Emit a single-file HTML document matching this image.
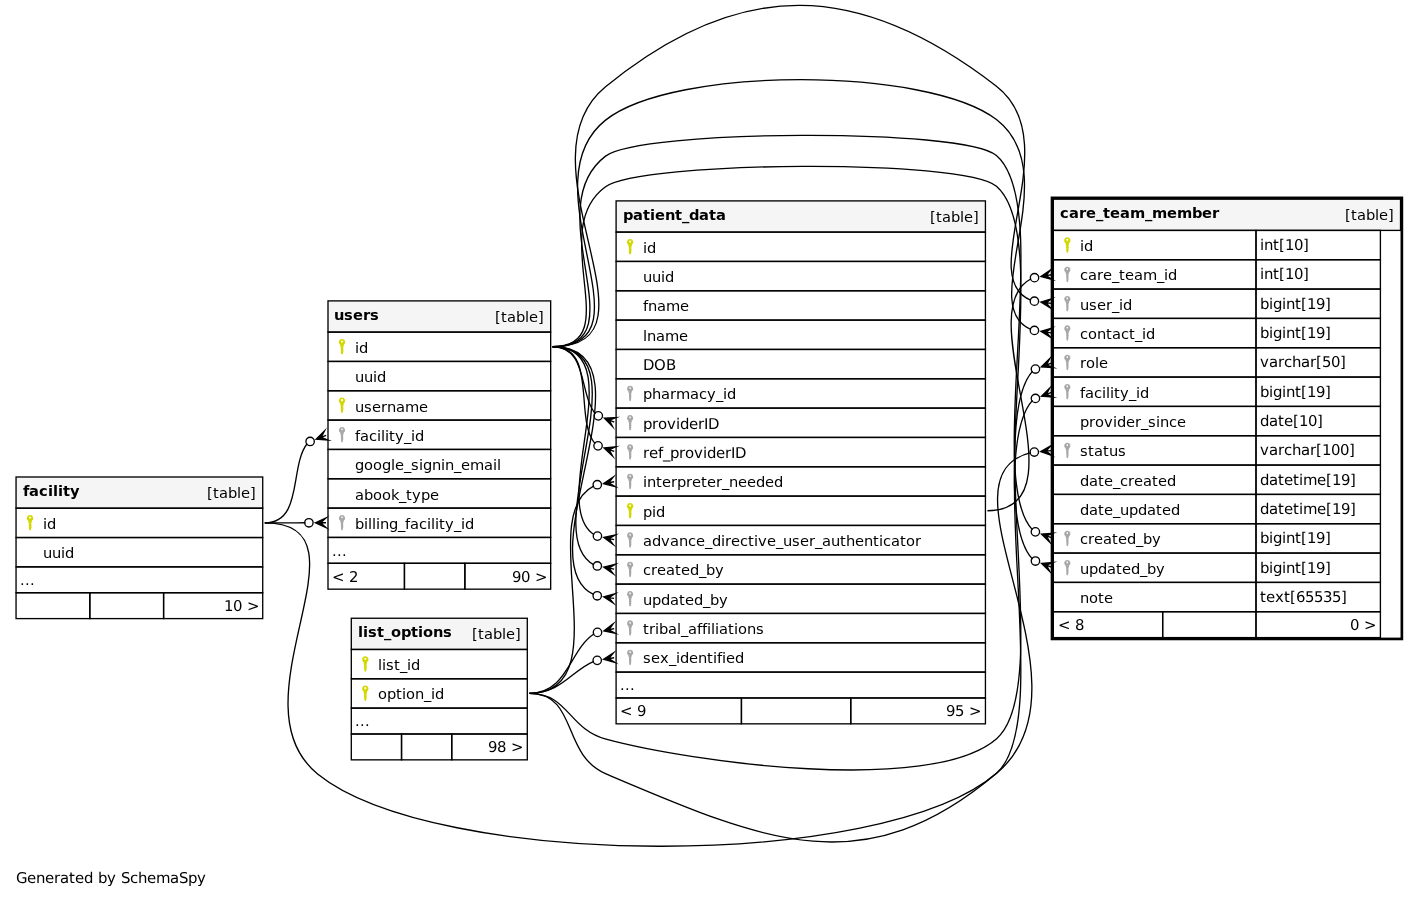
<!DOCTYPE html>
<html lang="en">
<head>
<meta charset="utf-8">
<title>care_team_member relationships</title>
<style>
html,body{margin:0;padding:0;background:#fff}
body{width:1419px;height:898px;overflow:hidden}
svg{display:block;will-change:transform}
svg text.g{text-rendering:geometricPrecision;font-size:14.9px}
svg text{font-family:"DejaVu Sans","Liberation Sans",sans-serif;font-size:14.67px;fill:#000}
.t rect{stroke-width:1.3333}
.e path,.e circle{fill:none;stroke:#000;stroke-width:1.3333}
.e polygon{fill:#000;stroke:#000;stroke-width:1.3333;stroke-miterlimit:10}
</style>
</head>
<body>
<svg width="1419" height="898" viewBox="0 0 1419 898" role="img" aria-label="care_team_member one degree relationships diagram">
<defs>
<path id="pk" fill="#d2d800" fill-rule="evenodd" d="M0,-8.1a3.2,3.2 0 0 1 1.9,5.78L1.3,0.2L1.2,2h0.5v0.8h-0.55L1.1,4h0.5v0.8h-0.55L1,6.4Q0,8.3 -1,6.4L-1.15,3.5L-1.3,0.2L-1.9,-2.32A3.2,3.2 0 0 1 0,-8.1ZM0,-6.6a1.05,1.05 0 1 0 0.001,0Z"/>
<path id="fk" fill="#a8a8a8" fill-rule="evenodd" d="M0,-8a3.1,3.1 0 0 1 1.85,5.6L1.15,0.2L1.05,2h0.45v0.8h-0.5L0.95,4h0.45v0.8h-0.5L0.9,6.5Q0,8.2 -0.9,6.5L-1.05,3.5L-1.15,0.2L-1.85,-2.4A3.1,3.1 0 0 1 0,-8ZM0,-6.4a0.8,0.8 0 1 0 0.001,0Z"/>
</defs>
<rect x="0" y="0" width="1419" height="898" fill="#fff"/>
<text x="16 27 36 45 54 60 69 75 84 93 98 107 116 121 130 138 147 156 170 179 188 197" y="883" class="g">Generated by SchemaSpy</text>
<g class="t">
<g id="care_team_member">
<rect x="1052" y="197.87" width="349.87" height="441.07" fill="#fff" stroke="#000" style="stroke-width:2.67"/>
<rect x="1053.33" y="199.2" width="347.2" height="31.2" fill="#f5f5f5" stroke="#000"/>
<text x="1060 1069 1079 1086 1096 1103 1110 1120 1130 1145 1152 1167 1177 1192 1202 1212" y="218" font-weight="bold">care_team_member</text>
<text x="1345 1351 1357 1366 1375 1379 1388" y="220">[table]</text>
<rect x="1053.33" y="230.4" width="202.67" height="29.33" fill="none" stroke="#000"/>
<use href="#pk" x="1067.33" y="245.3"/>
<text x="1080 1084" y="251">id</text>
<rect x="1256" y="230.4" width="124.4" height="29.33" fill="none" stroke="#000"/>
<text x="1260 1264 1273 1279 1285 1294 1303" y="250" class="g">int[10]</text>
<rect x="1053.33" y="259.73" width="202.67" height="29.33" fill="none" stroke="#000"/>
<use href="#fk" x="1067.33" y="274.63"/>
<text x="1080 1088 1097 1103 1112 1119 1125 1134 1143 1157 1164 1168" y="280">care_team_id</text>
<rect x="1256" y="259.73" width="124.4" height="29.33" fill="none" stroke="#000"/>
<text x="1260 1264 1273 1279 1285 1294 1303" y="279" class="g">int[10]</text>
<rect x="1053.33" y="289.07" width="202.67" height="29.33" fill="none" stroke="#000"/>
<use href="#fk" x="1067.33" y="303.97"/>
<text x="1080 1089 1097 1106 1112 1119 1123" y="310">user_id</text>
<rect x="1256" y="289.07" width="124.4" height="29.33" fill="none" stroke="#000"/>
<text x="1260 1269 1273 1282 1286 1295 1301 1307 1316 1325" y="309" class="g">bigint[19]</text>
<rect x="1053.33" y="318.4" width="202.67" height="29.33" fill="none" stroke="#000"/>
<use href="#fk" x="1067.33" y="333.3"/>
<text x="1080 1088 1097 1106 1112 1121 1129 1135 1142 1146" y="339">contact_id</text>
<rect x="1256" y="318.4" width="124.4" height="29.33" fill="none" stroke="#000"/>
<text x="1260 1269 1273 1282 1286 1295 1301 1307 1316 1325" y="338" class="g">bigint[19]</text>
<rect x="1053.33" y="347.73" width="202.67" height="29.33" fill="none" stroke="#000"/>
<use href="#fk" x="1067.33" y="362.63"/>
<text x="1080 1086 1095 1099" y="368">role</text>
<rect x="1256" y="347.73" width="124.4" height="29.33" fill="none" stroke="#000"/>
<text x="1260 1269 1278 1284 1292 1301 1310 1316 1322 1331 1340" y="367" class="g">varchar[50]</text>
<rect x="1053.33" y="377.07" width="202.67" height="29.33" fill="none" stroke="#000"/>
<use href="#fk" x="1067.33" y="391.97"/>
<text x="1080 1085 1094 1102 1106 1110 1114 1120 1129 1136 1140" y="398">facility_id</text>
<rect x="1256" y="377.07" width="124.4" height="29.33" fill="none" stroke="#000"/>
<text x="1260 1269 1273 1282 1286 1295 1301 1307 1316 1325" y="397" class="g">bigint[19]</text>
<rect x="1053.33" y="406.4" width="202.67" height="29.33" fill="none" stroke="#000"/>
<text x="1080 1089 1095 1104 1113 1117 1126 1135 1141 1148 1156 1160 1169 1177" y="427">provider_since</text>
<rect x="1256" y="406.4" width="124.4" height="29.33" fill="none" stroke="#000"/>
<text x="1260 1269 1278 1284 1293 1299 1308 1317" y="426" class="g">date[10]</text>
<rect x="1053.33" y="435.73" width="202.67" height="29.33" fill="none" stroke="#000"/>
<use href="#fk" x="1067.33" y="450.63"/>
<text x="1080 1088 1094 1103 1109 1118" y="456">status</text>
<rect x="1256" y="435.73" width="124.4" height="29.33" fill="none" stroke="#000"/>
<text x="1260 1269 1278 1284 1292 1301 1310 1316 1322 1331 1340 1349" y="455" class="g">varchar[100]</text>
<rect x="1053.33" y="465.07" width="202.67" height="29.33" fill="none" stroke="#000"/>
<text x="1080 1089 1098 1104 1113 1120 1128 1134 1143 1152 1158 1167" y="486">date_created</text>
<rect x="1256" y="465.07" width="124.4" height="29.33" fill="none" stroke="#000"/>
<text x="1260 1269 1278 1284 1293 1299 1303 1317 1326 1332 1341 1350" y="485" class="g">datetime[19]</text>
<rect x="1053.33" y="494.4" width="202.67" height="29.33" fill="none" stroke="#000"/>
<text x="1080 1089 1098 1104 1113 1120 1129 1138 1147 1156 1162 1171" y="515">date_updated</text>
<rect x="1256" y="494.4" width="124.4" height="29.33" fill="none" stroke="#000"/>
<text x="1260 1269 1278 1284 1293 1299 1303 1317 1326 1332 1341 1350" y="514" class="g">datetime[19]</text>
<rect x="1053.33" y="523.73" width="202.67" height="29.33" fill="none" stroke="#000"/>
<use href="#fk" x="1067.33" y="538.63"/>
<text x="1080 1088 1094 1103 1112 1118 1127 1136 1143 1152" y="544">created_by</text>
<rect x="1256" y="523.73" width="124.4" height="29.33" fill="none" stroke="#000"/>
<text x="1260 1269 1273 1282 1286 1295 1301 1307 1316 1325" y="543" class="g">bigint[19]</text>
<rect x="1053.33" y="553.07" width="202.67" height="29.33" fill="none" stroke="#000"/>
<use href="#fk" x="1067.33" y="567.97"/>
<text x="1080 1089 1098 1107 1116 1122 1131 1140 1147 1156" y="574">updated_by</text>
<rect x="1256" y="553.07" width="124.4" height="29.33" fill="none" stroke="#000"/>
<text x="1260 1269 1273 1282 1286 1295 1301 1307 1316 1325" y="573" class="g">bigint[19]</text>
<rect x="1053.33" y="582.4" width="202.67" height="29.33" fill="none" stroke="#000"/>
<text x="1080 1089 1098 1104" y="603">note</text>
<rect x="1256" y="582.4" width="124.4" height="29.33" fill="none" stroke="#000"/>
<text x="1260 1266 1275 1284 1290 1296 1305 1314 1323 1332 1341" y="602" class="g">text[65535]</text>
<rect x="1053.33" y="611.73" width="109.33" height="25.87" fill="none" stroke="#000"/>
<rect x="1162.66" y="611.73" width="93.33" height="25.87" fill="none" stroke="#000"/>
<rect x="1256" y="611.73" width="124.4" height="25.87" fill="none" stroke="#000"/>
<text x="1058 1070 1075" y="630" class="g">&lt; 8</text>
<text x="1350 1359 1364" y="630" class="g">0 &gt;</text>
</g>
<g id="patient_data">
<rect x="616.1" y="200.9" width="369.33" height="522.93" fill="#fff"/>
<rect x="616.1" y="200.9" width="369.33" height="31.2" fill="#f5f5f5" stroke="#000"/>
<text x="623 633 643 650 655 665 675 682 689 699 709 716" y="220" font-weight="bold">patient_data</text>
<text x="930 936 942 951 960 964 973" y="222">[table]</text>
<rect x="616.1" y="232.1" width="369.33" height="29.33" fill="none" stroke="#000"/>
<use href="#pk" x="630.1" y="247"/>
<text x="643 647" y="253">id</text>
<rect x="616.1" y="261.43" width="369.33" height="29.33" fill="none" stroke="#000"/>
<text x="643 652 661 665" y="282">uuid</text>
<rect x="616.1" y="290.77" width="369.33" height="29.33" fill="none" stroke="#000"/>
<text x="643 648 657 666 680" y="311">fname</text>
<rect x="616.1" y="320.1" width="369.33" height="29.33" fill="none" stroke="#000"/>
<text x="643 647 656 665 679" y="341">lname</text>
<rect x="616.1" y="349.43" width="369.33" height="29.33" fill="none" stroke="#000"/>
<text x="643 654 666" y="370" class="g">DOB</text>
<rect x="616.1" y="378.77" width="369.33" height="29.33" fill="none" stroke="#000"/>
<use href="#fk" x="630.1" y="393.67"/>
<text x="643 652 661 670 676 690 699 707 716 723 727" y="399">pharmacy_id</text>
<rect x="616.1" y="408.1" width="369.33" height="29.33" fill="none" stroke="#000"/>
<use href="#fk" x="630.1" y="423"/>
<text x="643 652 658 667 676 680 689 698 704 708" y="429" class="g">providerID</text>
<rect x="616.1" y="437.43" width="369.33" height="29.33" fill="none" stroke="#000"/>
<use href="#fk" x="630.1" y="452.33"/>
<text x="643 649 658 663 670 679 685 694 703 707 716 725 731 735" y="458" class="g">ref_providerID</text>
<rect x="616.1" y="466.77" width="369.33" height="29.33" fill="none" stroke="#000"/>
<use href="#fk" x="630.1" y="481.67"/>
<text x="643 647 656 662 671 677 686 692 701 707 716 722 729 738 747 756 765 774" y="487">interpreter_needed</text>
<rect x="616.1" y="496.1" width="369.33" height="29.33" fill="none" stroke="#000"/>
<use href="#pk" x="630.1" y="511"/>
<text x="643 652 656" y="517">pid</text>
<rect x="616.1" y="525.43" width="369.33" height="29.33" fill="none" stroke="#000"/>
<use href="#fk" x="630.1" y="540.33"/>
<text x="643 652 661 670 679 688 696 705 712 721 725 731 740 748 754 758 767 776 783 792 800 809 815 822 831 840 846 855 864 873 879 883 891 900 906 915" y="546">advance_directive_user_authenticator</text>
<rect x="616.1" y="554.77" width="369.33" height="29.33" fill="none" stroke="#000"/>
<use href="#fk" x="630.1" y="569.67"/>
<text x="643 651 657 666 675 681 690 699 706 715" y="575">created_by</text>
<rect x="616.1" y="584.1" width="369.33" height="29.33" fill="none" stroke="#000"/>
<use href="#fk" x="630.1" y="599"/>
<text x="643 652 661 670 679 685 694 703 710 719" y="605">updated_by</text>
<rect x="616.1" y="613.43" width="369.33" height="29.33" fill="none" stroke="#000"/>
<use href="#fk" x="630.1" y="628.33"/>
<text x="643 649 655 659 668 677 681 688 697 702 707 711 715 719 728 734 738 747 756" y="634">tribal_affiliations</text>
<rect x="616.1" y="642.77" width="369.33" height="29.33" fill="none" stroke="#000"/>
<use href="#fk" x="630.1" y="657.67"/>
<text x="643 651 660 669 676 680 689 698 707 713 717 722 726 735" y="663">sex_identified</text>
<rect x="616.1" y="672.1" width="369.33" height="25.87" fill="none" stroke="#000"/>
<text x="620 625 630" y="690">...</text>
<rect x="616.1" y="697.97" width="125.33" height="25.87" fill="none" stroke="#000"/>
<rect x="741.43" y="697.97" width="109.33" height="25.87" fill="none" stroke="#000"/>
<rect x="850.77" y="697.97" width="134.67" height="25.87" fill="none" stroke="#000"/>
<text x="620 632 637" y="716" class="g">&lt; 9</text>
<text x="946 955 964 969" y="716" class="g">95 &gt;</text>
</g>
<g id="users">
<rect x="328" y="300.9" width="222.67" height="288.27" fill="#fff"/>
<rect x="328" y="300.9" width="222.67" height="31.2" fill="#f5f5f5" stroke="#000"/>
<text x="334 344 353 363 370" y="320" font-weight="bold">users</text>
<text x="495 501 507 516 525 529 538" y="322">[table]</text>
<rect x="328" y="332.1" width="222.67" height="29.33" fill="none" stroke="#000"/>
<use href="#pk" x="342" y="347"/>
<text x="355 359" y="353">id</text>
<rect x="328" y="361.43" width="222.67" height="29.33" fill="none" stroke="#000"/>
<text x="355 364 373 377" y="382">uuid</text>
<rect x="328" y="390.77" width="222.67" height="29.33" fill="none" stroke="#000"/>
<use href="#pk" x="342" y="405.67"/>
<text x="355 364 372 381 387 396 405 419" y="412">username</text>
<rect x="328" y="420.1" width="222.67" height="29.33" fill="none" stroke="#000"/>
<use href="#fk" x="342" y="435"/>
<text x="355 360 369 377 381 385 389 395 404 411 415" y="441">facility_id</text>
<rect x="328" y="449.43" width="222.67" height="29.33" fill="none" stroke="#000"/>
<text x="355 364 373 382 391 395 404 411 419 423 432 441 445 454 461 470 484 493 497" y="470">google_signin_email</text>
<rect x="328" y="478.77" width="222.67" height="29.33" fill="none" stroke="#000"/>
<text x="355 364 373 382 391 399 406 412 421 430" y="500">abook_type</text>
<rect x="328" y="508.1" width="222.67" height="29.33" fill="none" stroke="#000"/>
<use href="#fk" x="342" y="523"/>
<text x="355 364 368 372 376 380 389 398 405 410 419 427 431 435 439 445 454 461 465" y="529">billing_facility_id</text>
<rect x="328" y="537.43" width="222.67" height="25.87" fill="none" stroke="#000"/>
<text x="332 337 342" y="556">...</text>
<rect x="328" y="563.3" width="76.44" height="25.87" fill="none" stroke="#000"/>
<rect x="404.44" y="563.3" width="60.44" height="25.87" fill="none" stroke="#000"/>
<rect x="464.88" y="563.3" width="85.79" height="25.87" fill="none" stroke="#000"/>
<text x="332 344 349" y="582" class="g">&lt; 2</text>
<text x="512 521 530 535" y="582" class="g">90 &gt;</text>
</g>
<g id="facility">
<rect x="16.05" y="477" width="246.67" height="141.6" fill="#fff"/>
<rect x="16.05" y="477" width="246.67" height="31.2" fill="#f5f5f5" stroke="#000"/>
<text x="23 29 39 48 53 58 63 70" y="496" font-weight="bold">facility</text>
<text x="207 213 219 228 237 241 250" y="498">[table]</text>
<rect x="16.05" y="508.2" width="246.67" height="29.33" fill="none" stroke="#000"/>
<use href="#pk" x="30.05" y="523.1"/>
<text x="43 47" y="529">id</text>
<rect x="16.05" y="537.53" width="246.67" height="29.33" fill="none" stroke="#000"/>
<text x="43 52 61 65" y="558">uuid</text>
<rect x="16.05" y="566.87" width="246.67" height="25.87" fill="none" stroke="#000"/>
<text x="20 25 30" y="585">...</text>
<rect x="16.05" y="592.73" width="73.77" height="25.87" fill="none" stroke="#000"/>
<rect x="89.82" y="592.73" width="73.77" height="25.87" fill="none" stroke="#000"/>
<rect x="163.6" y="592.73" width="99.12" height="25.87" fill="none" stroke="#000"/>
<text x="224 233 242 247" y="611" class="g">10 &gt;</text>
</g>
<g id="list_options">
<rect x="351.3" y="618.25" width="176" height="141.6" fill="#fff"/>
<rect x="351.3" y="618.25" width="176" height="31.2" fill="#f5f5f5" stroke="#000"/>
<text x="358 363 368 377 384 391 401 411 418 423 433 443" y="637" font-weight="bold">list_options</text>
<text x="472 478 484 493 502 506 515" y="639">[table]</text>
<rect x="351.3" y="649.45" width="176" height="29.33" fill="none" stroke="#000"/>
<use href="#pk" x="365.3" y="664.35"/>
<text x="378 382 386 394 400 407 411" y="670">list_id</text>
<rect x="351.3" y="678.78" width="176" height="29.33" fill="none" stroke="#000"/>
<use href="#pk" x="365.3" y="693.68"/>
<text x="378 387 396 402 406 415 424 431 435" y="699">option_id</text>
<rect x="351.3" y="708.12" width="176" height="25.87" fill="none" stroke="#000"/>
<text x="355 360 365" y="726">...</text>
<rect x="351.3" y="733.98" width="50.23" height="25.87" fill="none" stroke="#000"/>
<rect x="401.53" y="733.98" width="50.23" height="25.87" fill="none" stroke="#000"/>
<rect x="451.75" y="733.98" width="75.55" height="25.87" fill="none" stroke="#000"/>
<text x="488 497 506 511" y="752" class="g">98 &gt;</text>
</g>
</g>
<g class="e">
<g id="e-care_team_member.care_team_id"><path d="M1031.19,278.76C966.64,311.03 1087.61,510.65 987.43,510.77"/><polygon points="1040.85,276.57 1050.54,270.01 1046.11,275.66 1051.36,274.74 1046.11,275.66 1052.18,279.47"/><circle cx="1034.51" cy="277.67" r="4.2"/></g>
<g id="e-care_team_member.contact_id"><path d="M1031.04,329.5C974.12,306.38 1067.51,174.05 996.44,119.57 927.67,66.69 673.61,65.96 605.55,120.13 524.49,184.48 656.17,346.76 552.67,346.77"/><polygon points="1040.78,331.31 1052.02,328.04 1046.07,332.05 1051.35,332.79 1046.07,332.05 1050.68,337.54"/><circle cx="1034.42" cy="330.41" r="4.2"/></g>
<g id="e-care_team_member.created_by"><path d="M1032.52,529.86C983.23,478.28 1055.46,206.19 996.44,155.57 963.53,127.37 640.16,129.66 605.55,156.13 535.53,209.4 640.66,346.76 552.67,346.77"/><polygon points="1041.42,534.07 1053.09,533.21 1046.44,535.9 1051.45,537.72 1046.44,535.9 1049.81,542.23"/><circle cx="1035.38" cy="531.87" r="4.2"/></g>
<g id="e-care_team_member.updated_by"><path d="M1032.51,559.14C983.51,507.54 1055.26,236.64 996.44,186.23 963.53,158.05 640.79,161.17 605.55,186.8 544.83,230.7 627.61,346.76 552.67,346.77"/><polygon points="1041.46,563.3 1053.13,562.54 1046.46,565.17 1051.46,567.03 1046.46,565.17 1049.78,571.53"/><circle cx="1035.44" cy="561.05" r="4.2"/></g>
<g id="e-care_team_member.user_id"><path d="M1031.02,300.25C972.52,277.1 1068.76,141.95 996.44,86.23 859.21,-20.03 740.04,-23.3 605.55,86.8 514.21,161.45 670.65,346.76 552.67,346.77"/><polygon points="1040.78,302.03 1052,298.71 1046.07,302.75 1051.35,303.46 1046.07,302.75 1050.7,308.22"/><circle cx="1034.4" cy="301.16" r="4.2"/></g>
<g id="e-care_team_member.facility_id"><path d="M1032.55,400.39C983.99,452.7 1054.85,722.48 996.46,773.33 882.24,872.11 434.75,868.79 317.59,773.93 229.13,702.1 378.62,522.97 264.72,522.87"/><polygon points="1041.46,396.16 1049.78,387.94 1046.46,394.3 1051.46,392.43 1046.46,394.3 1053.13,396.93"/><circle cx="1035.44" cy="398.41" r="4.2"/></g>
<g id="e-care_team_member.role"><path d="M1032.61,371.15C985.05,423.24 1054.16,688.61 996.65,738.64 930.87,795.51 689.71,761.93 605.98,739.21 567.79,728.66 568.89,693.56 529.3,693.45"/><polygon points="1041.46,366.83 1049.78,358.6 1046.46,364.96 1051.46,363.1 1046.46,364.96 1053.13,367.6"/><circle cx="1035.43" cy="369.08" r="4.2"/></g>
<g id="e-care_team_member.status"><path d="M1030.85,452.63C929.76,476.81 1101.19,684.93 996.65,773.31 863.75,885.24 765.67,841.85 605.98,773.88 560.68,754.45 578.56,693.56 529.3,693.45"/><polygon points="1040.71,451.51 1050.92,445.79 1046.03,451.04 1051.34,450.58 1046.03,451.04 1051.76,455.36"/><circle cx="1034.3" cy="452.08" r="4.2"/></g>
<g id="e-patient_data.advance_directive_user_authenticator"><path d="M594.19,534.77C546.05,503.89 634.58,346.33 552.67,346.77"/><polygon points="603.71,537.46 615.14,534.99 608.93,538.57 614.14,539.68 608.93,538.57 613.14,544.38"/><circle cx="597.42" cy="536.12" r="4.2"/></g>
<g id="e-patient_data.created_by"><path d="M594.01,564.82C534.87,533.2 647.23,346.33 552.67,346.77"/><polygon points="603.64,567.15 615,564.35 608.89,568.11 614.13,569.07 608.89,568.11 613.27,573.79"/><circle cx="597.31" cy="565.99" r="4.2"/></g>
<g id="e-patient_data.providerID"><path d="M595.42,413.87C578.95,393.94 587.57,346.34 552.67,346.77"/><polygon points="604.29,418.19 615.97,417.57 609.26,420.12 614.24,422.04 609.26,420.12 612.5,426.52"/><circle cx="598.29" cy="415.87" r="4.2"/></g>
<g id="e-patient_data.ref_providerID"><path d="M595.18,443.86C573.59,419.23 598.29,346.33 552.67,346.77"/><polygon points="604.12,447.97 615.78,446.91 609.17,449.71 614.21,451.45 609.17,449.71 612.64,455.98"/><circle cx="598.05" cy="445.87" r="4.2"/></g>
<g id="e-patient_data.updated_by"><path d="M593.9,594.73C523.21,562.64 659.98,346.33 552.67,346.77"/><polygon points="603.59,596.78 614.88,593.71 608.86,597.62 614.12,598.45 608.86,597.62 613.37,603.19"/><circle cx="597.24" cy="595.78" r="4.2"/></g>
<g id="e-patient_data.interpreter_needed"><path d="M593.96,485.81C532.57,516.37 621.72,693.01 529.3,693.45"/><polygon points="603.62,483.6 613.31,477.05 608.88,482.69 614.13,481.78 608.88,482.69 614.95,486.5"/><circle cx="597.28" cy="484.7" r="4.2"/></g>
<g id="e-patient_data.sex_identified"><path d="M593.86,661.33C570.98,670.79 562.02,693.02 529.3,693.45"/><polygon points="603.58,659.37 613.39,653 608.86,658.55 614.12,657.74 608.86,658.55 614.86,662.48"/><circle cx="597.22" cy="660.35" r="4.2"/></g>
<g id="e-patient_data.tribal_affiliations"><path d="M594.26,633.73C569.16,649.77 568.29,693.01 529.3,693.45"/><polygon points="603.75,630.95 613.07,623.87 608.96,629.75 614.15,628.55 608.96,629.75 615.23,633.23"/><circle cx="597.49" cy="632.39" r="4.2"/></g>
<g id="e-users.billing_facility_id"><path d="M305.4,522.77C292.78,522.8 283.51,522.84 264.72,522.87"/><polygon points="315.33,522.77 326,517.97 320.67,522.77 326,522.77 320.67,522.77 326,527.57"/><circle cx="308.9" cy="522.77" r="4.2"/></g>
<g id="e-users.facility_id"><path d="M307.29,443.54C289.27,465.84 303.33,522.83 264.72,522.87"/><polygon points="316.14,439.22 324.44,430.98 321.14,437.35 326.13,435.47 321.14,437.35 327.82,439.96"/><circle cx="310.12" cy="441.49" r="4.2"/></g>
</g>
</svg>
</body>
</html>
